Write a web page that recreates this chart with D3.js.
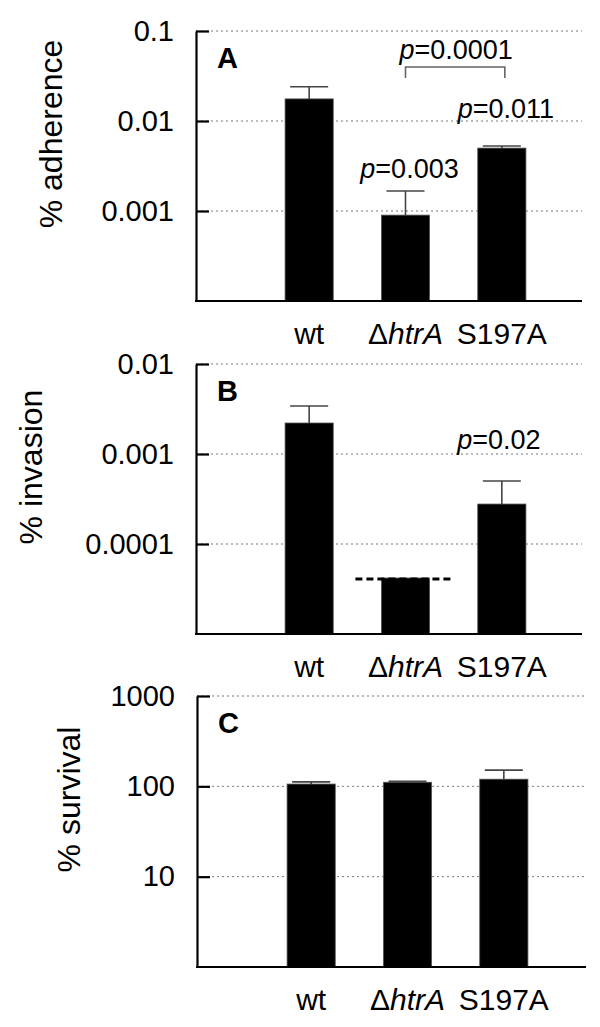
<!DOCTYPE html>
<html lang="en">
<head>
  <meta charset="UTF-8">
  <title>htrA adherence / invasion / survival</title>
  <style>
    body { margin: 0; background: #fff; }
    svg { display: block; font-family: "Liberation Sans", Arial, Helvetica, sans-serif; }
  </style>
</head>
<body>
  <script src="https://d3js.org/d3.v7.min.js"></script>
  <script>
    'use strict';

    const categories = ["wt", "ΔhtrA", "S197A"];

    // bar heights and upper ends of the error bars (null = no error bar)
    const adherence = [0.0176, 0.00090, 0.0050];
    const adherenceUpper = [0.0240, 0.00167, 0.00527];

    const invasion = [0.00221, 0.0000419, 0.000278];
    const invasionUpper = [0.00341, null, 0.000501];

    const survival = [106, 111, 120];
    const survivalUpper = [112, 114, 151];

    const adherenceTicks = [0.1, 0.01, 0.001];
    const adherenceTickLabels = ["0.1", "0.01", "0.001"];
    const invasionTicks = [0.01, 0.001, 0.0001];
    const invasionTickLabels = ["0.01", "0.001", "0.0001"];
    const survivalTicks = [1000, 100, 10];
    const survivalTickLabels = ["1000", "100", "10"];

    const width = 600;
    const height = 1027;

    const tickLen = 13;
    const capWidth = 38;

    const svg = d3.select('body').append('svg')
      .attr('width', width)
      .attr('height', height);

    const panels = [
      { letter: 'A', title: '% adherence', titleX: 62, top: 31, bottom: 301, left: 196, right: 582, shift: 0,
        domain: [0.0001, 0.1], values: adherence, upper: adherenceUpper,
        ticks: adherenceTicks, tickLabels: adherenceTickLabels },
      { letter: 'B', title: '% invasion', titleX: 42, top: 364, bottom: 634, left: 196, right: 582, shift: 0,
        domain: [0.00001, 0.01], values: invasion, upper: invasionUpper,
        ticks: invasionTicks, tickLabels: invasionTickLabels },
      { letter: 'C', title: '% survival', titleX: 80, top: 696, bottom: 967, left: 197, right: 586, shift: 2,
        domain: [1, 1000], values: survival, upper: survivalUpper,
        ticks: survivalTicks, tickLabels: survivalTickLabels }
    ];

    panels.forEach(p => {
      const y = d3.scaleLog().domain(p.domain).range([p.bottom, p.top]);
      const x = d3.scaleBand().domain(categories)
        .range([261 + p.shift, 550 + p.shift])
        .paddingInner(0.5).paddingOuter(0.25);

      const g = svg.append('g');

      // dotted grid lines
      g.selectAll('line.grid')
        .data(p.ticks).enter()
        .append('line')
        .attr('class', 'grid')
        .attr('x1', p.left).attr('x2', p.right)
        .attr('y1', d => y(d)).attr('y2', d => y(d))
        .attr('stroke', '#777')
        .attr('stroke-width', 1)
        .attr('stroke-dasharray', '2,3');

      // bars
      g.selectAll('rect.bar')
        .data(p.values).enter()
        .append('rect')
        .attr('class', 'bar')
        .attr('x', (d, i) => x(categories[i]))
        .attr('y', d => y(d))
        .attr('width', x.bandwidth())
        .attr('height', d => p.bottom - y(d))
        .attr('fill', '#000')
        .attr('stroke', '#555')
        .attr('stroke-width', 0.8);

      // error bars
      const errs = p.upper.map((u, i) => ({ u: u, v: p.values[i], c: categories[i] })).filter(d => d.u != null);
      const cx = c => x(c) + x.bandwidth() / 2;

      g.selectAll('line.err')
        .data(errs).enter()
        .append('line')
        .attr('x1', d => cx(d.c)).attr('x2', d => cx(d.c))
        .attr('y1', d => y(d.v)).attr('y2', d => y(d.u))
        .attr('stroke', '#444').attr('stroke-width', 1.6);

      g.selectAll('line.cap')
        .data(errs).enter()
        .append('line')
        .attr('x1', d => cx(d.c) - capWidth / 2).attr('x2', d => cx(d.c) + capWidth / 2)
        .attr('y1', d => y(d.u)).attr('y2', d => y(d.u))
        .attr('stroke', '#444').attr('stroke-width', 1.6);

      // y axis, ticks pointing inward
      const yAxis = d3.axisLeft(y)
        .tickValues(p.ticks)
        .tickFormat((d, i) => p.tickLabels[i])
        .tickSizeInner(-tickLen)
        .tickSizeOuter(0)
        .tickPadding(22);

      const ax = g.append('g')
        .attr('transform', 'translate(' + p.left + ',0)')
        .call(yAxis);
      ax.select('.domain').attr('stroke-width', 2.2);
      ax.selectAll('.tick line').attr('stroke-width', 2.2);
      ax.selectAll('.tick text')
        .attr('font-size', '29px')
        .attr('font-family', '"Liberation Sans", Arial, sans-serif')
        .attr('fill', '#000');

      // x axis line
      g.append('line')
        .attr('x1', p.left - 1).attr('x2', p.right)
        .attr('y1', p.bottom).attr('y2', p.bottom)
        .attr('stroke', '#000').attr('stroke-width', 2.2);

      // category labels
      const lab = g.selectAll('text.cat')
        .data(categories).enter()
        .append('text')
        .attr('class', 'cat')
        .attr('x', d => cx(d))
        .attr('y', p.bottom + 43)
        .attr('text-anchor', 'middle')
        .attr('font-size', '30px');
      lab.each(function (d) {
        const t = d3.select(this);
        if (d.startsWith('Δ')) {
          t.append('tspan').text('Δ');
          t.append('tspan').attr('font-style', 'italic').text(d.slice(1));
        } else {
          t.text(d);
        }
      });

      // panel letter
      g.append('text')
        .attr('x', p.left + 21)
        .attr('y', p.top + 37)
        .attr('font-size', '29px')
        .attr('font-weight', 'bold')
        .text(p.letter);

      // axis title
      g.append('text')
        .attr('transform', 'translate(' + p.titleX + ',' + ((p.top + p.bottom) / 2 - 32) + ') rotate(-90)')
        .attr('text-anchor', 'middle')
        .attr('font-size', '32px')
        .text(p.title);

      p.x = x; p.y = y; p.g = g; p.cx = cx;
    });

    function pText(g, x, y, value) {
      const t = g.append('text')
        .attr('x', x).attr('y', y)
        .attr('text-anchor', 'middle')
        .attr('font-size', '27px');
      t.append('tspan').attr('font-style', 'italic').text('p');
      t.append('tspan').text('=' + value);
    }

    // annotations for panel A
    const pA = panels[0];
    pText(pA.g, pA.cx('ΔhtrA') + 4, pA.y(adherenceUpper[1]) - 13, '0.003');
    pText(pA.g, pA.cx('S197A') + 4, pA.y(adherenceUpper[2]) - 28, '0.011');

    const bx1 = pA.cx('ΔhtrA'), bx2 = pA.cx('S197A') + 3, by = 67;
    pA.g.append('path')
      .attr('d', 'M' + bx1 + ',' + (by + 11) + 'V' + by + 'H' + bx2 + 'V' + (by + 11))
      .attr('fill', 'none')
      .attr('stroke', '#666')
      .attr('stroke-width', 1.6);
    pText(pA.g, (bx1 + bx2) / 2 + 1, by - 8, '0.0001');

    // panel B: detection limit line and p value
    const pB = panels[1];
    pB.g.append('line')
      .attr('x1', pB.x('ΔhtrA') - 26)
      .attr('x2', pB.x('ΔhtrA') + pB.x.bandwidth() + 23)
      .attr('y1', pB.y(invasion[1]) + 1).attr('y2', pB.y(invasion[1]) + 1)
      .attr('stroke', '#000')
      .attr('stroke-width', 3)
      .attr('stroke-dasharray', '7,4');
    pText(pB.g, pB.cx('S197A') - 3, pB.y(invasionUpper[2]) - 32, '0.02');
  </script>
</body>
</html>
